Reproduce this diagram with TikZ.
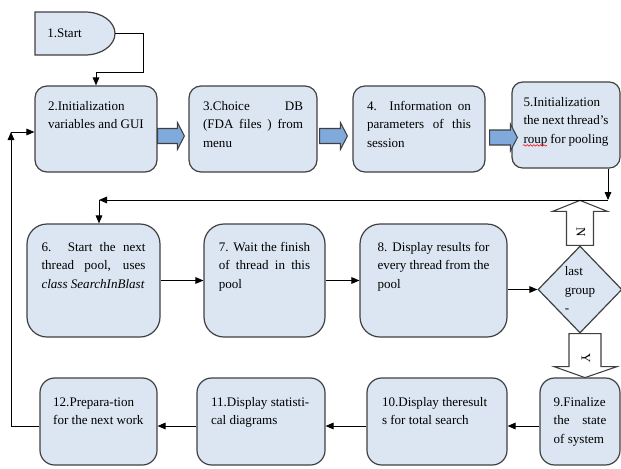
\documentclass[tikz,border=0pt]{standalone}
\usepackage{fontspec}
\setmainfont{Liberation Serif}
\usepackage{tikz}
\usetikzlibrary{shapes.geometric,arrows.meta,positioning,calc,decorations.pathmorphing}
\definecolor{boxfill}{HTML}{DCE6F2}
\definecolor{boxline}{HTML}{404040}
\definecolor{arrfill}{HTML}{7FAADB}

\tikzset{
  txt/.style={font={\fontsize{9.8}{13.9}\selectfont\hyphenpenalty=10000\exhyphenpenalty=10000}},
  proc/.style={txt, draw=boxline, fill=boxfill, line width=0.9pt, inner xsep=0pt, inner ysep=0pt, align=justify},
  toprow/.style={proc, rounded corners=9pt, text height=18pt, text depth=46.5pt},
  midrow/.style={proc, rounded corners=15pt, text height=20.25pt, text depth=64.5pt},
  lowrow/.style={proc, rounded corners=11pt, text height=21pt, text depth=44.25pt},
  flow/.style={draw=black, line width=0.75pt, -{Triangle[length=6pt,width=5pt]}},
  blockarr/.style={draw=boxline, fill=arrfill, line width=0.8pt},
  blockyn/.style={draw=boxline, fill=white, line width=0.8pt},
}

\begin{document}
\begin{tikzpicture}[x=0.75pt,y=0.75pt,yscale=-1,xscale=1]
\useasboundingbox (0,0) rectangle (621,468);

%Flowchart: Delay (start)
\draw [draw=boxline, fill=boxfill, line width=0.9pt] (35,12) -- (85,12) .. controls (101.6,12) and (115,21.6) .. (115,33.5) .. controls (115,45.4) and (101.6,55) .. (85,55) -- (35,55) -- cycle ;
\node [txt, anchor=west, inner sep=0pt] (start) at (47,33.5) {1.Start};
\coordinate (s1) at (115,33.5);
\coordinate (c0) at (143,72);

%Flowchart: Process, top row
\node [toprow, minimum width=91.5pt, text width=72pt] (b2) at (96,129) {2.Initialization\\ variables and GUI};
\node [toprow, minimum width=96pt, text width=75pt] (b3) at (253,129) {3.Choice DB\linebreak (FDA files ) from\linebreak menu};
\node [toprow, minimum width=99pt, text width=78pt] (b4) at (419,129) {4. Information on\linebreak parameters of this\linebreak session};
\node [toprow, rounded corners=8pt, minimum width=81pt, text width=63.75pt] (b5) at (566,125) {5.Initialization\\ the next thread's\linebreak roup for pooling};
\draw [red, line width=0.4pt, decorate, decoration={snake, amplitude=0.6pt, segment length=2.5pt}] ($(b5.north west)+(11.5,64)$) -- ++(24,0) ;

%Flowchart: Process, middle row
\node [midrow, minimum width=99.75pt, text width=78pt] (b6) at (93.5,280.5) {6. Start the next\linebreak thread pool, uses\linebreak \textit{class SearchInBlast}};
\node [midrow, minimum width=90.75pt, text width=68.5pt] (b7) at (264.5,280.5) {7. Wait the finish\linebreak of thread in this\linebreak pool};
\node [midrow, minimum width=110.25pt, text width=84pt] (b8) at (433.5,280.5) {8. Display results for\linebreak every thread from the\linebreak pool};

%Flowchart: Decision
\node [txt, diamond, draw=boxline, fill=boxfill, line width=0.9pt, minimum width=63pt, minimum height=65.25pt, inner sep=0pt, align=left] (dia) at (580,289.5) {last\\group\\-};

%Flowchart: Process, bottom row
\node [lowrow, minimum width=60pt, text width=39.5pt] (b9) at (580,421.5) {9.Finalize\linebreak the state\linebreak of system};
\node [lowrow, minimum width=105pt, text width=82.5pt] (b10) at (437,421.5) {10.Display theresult\\ s for total search};
\node [lowrow, minimum width=96pt, text width=75pt] (b11) at (261,421.5) {11.Display statisti-\\ cal diagrams};
\node [lowrow, minimum width=87.75pt, text width=68pt] (b12) at (98.5,421.5) {12.Prepara-tion\\ for the next work};

%Block Arrows
\coordinate (t5) at (b5.west |- b4.east);
\draw [blockarr] ($(b2.east)+(0,-0.5)$) -- ($(b3.west)+(-11,-0.5)$) -- ($(b3.west)+(-11,-6.5)$) -- ($(b3.west)+(-4,7)$) -- ($(b3.west)+(-11,20.5)$) -- ($(b3.west)+(-11,14.5)$) -- ($(b2.east)+(0,14.5)$) -- cycle ;
\draw [blockarr] ($(b3.east)+(2,-0.5)$) -- ($(b4.west)+(-12,-0.5)$) -- ($(b4.west)+(-12,-6.5)$) -- ($(b4.west)+(-5,7)$) -- ($(b4.west)+(-12,20.5)$) -- ($(b4.west)+(-12,14.5)$) -- ($(b3.east)+(2,14.5)$) -- cycle ;
\draw [blockarr] ($(b4.east)+(4,1)$) -- ($(t5)+(-1,1)$) -- ($(t5)+(-1,-5)$) -- ($(t5)+(6,8.5)$) -- ($(t5)+(-1,22)$) -- ($(t5)+(-1,16)$) -- ($(b4.east)+(4,16)$) -- cycle ;

%Block Arrows N / Y
\draw [blockyn] ($(dia.north)+(-13.5,0)$) -- ($(dia.north)+(-13.5,-34)$) -- ($(dia.north)+(-27.5,-34)$) -- ($(dia.north)+(0,-45)$) -- ($(dia.north)+(27.5,-34)$) -- ($(dia.north)+(13.5,-34)$) -- ($(dia.north)+(13.5,0)$) -- cycle ;
\node [txt, rotate=-90, inner sep=0pt] (nlab) at (581,232) {N};
\draw [blockyn] ($(dia.south)+(-11,0)$) -- ($(dia.south)+(-11,33)$) -- ($(dia.south)+(-26,33)$) -- ($(dia.south)+(5,44)$) -- ($(dia.south)+(37,33)$) -- ($(dia.south)+(21,33)$) -- ($(dia.south)+(21,0)$) -- cycle ;
\node [txt, rotate=-90, inner sep=0pt] (ylab) at (586,358) {Y};

%Straight Lines
\coordinate (j1) at (608,200);
\coordinate (c1) at (99,200);
\coordinate (f1) at (11,426);
\coordinate (f2) at (11,132);
\draw [flow] (s1) -| (c0) -| (b2.north) ;
\draw [flow] (b5.south -| j1) -- (j1) ;
\draw [flow] (j1) -- (c1) ;
\draw [flow] (c1) -- (c1 |- b6.north) ;
\draw [flow] (b6) -- (b7) ;
\draw [flow] (b7) -- (b8) ;
\draw [flow] (b8.east |- dia.west) -- (dia.west) ;
\draw [flow] (b9.west |- f1) -- (b10.east |- f1) ;
\draw [flow] (b10.west |- f1) -- (b11.east |- f1) ;
\draw [flow] (b11.west |- f1) -- (b12.east |- f1) ;
\draw [flow] (b12.west |- f1) -- (f1) -- (f2) ;
\draw [flow] (f2) -- (f2 -| b2.west) ;

\end{tikzpicture}
\end{document}
